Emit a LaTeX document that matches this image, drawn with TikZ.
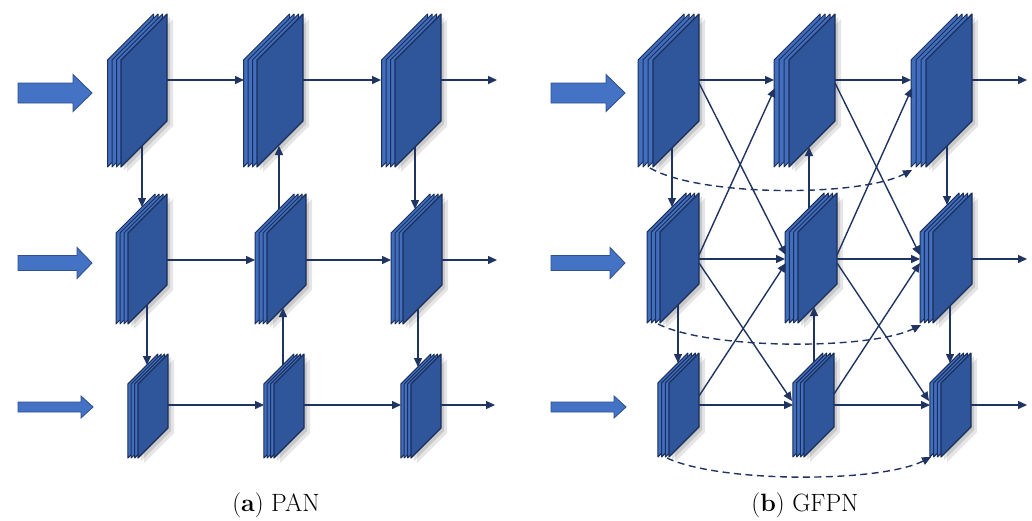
\documentclass[tikz,border=0pt]{standalone}
\usetikzlibrary{arrows.meta}
\definecolor{face}{RGB}{47,85,155}
\definecolor{stripc}{RGB}{66,110,190}
\definecolor{edgec}{RGB}{26,46,90}
\definecolor{linec}{RGB}{31,52,96}
\definecolor{inA}{RGB}{68,114,196}
\definecolor{inE}{RGB}{47,82,143}

% #1 xf, #2 yb, #3 w, #4 h, #5 d, #6 name
\newcommand{\slab}[6]{%
  \fill[black,opacity=.10] (#1+6,#2+5) -- ++(0,-#4) -- ++(#3,-#3) -- ++(0,#4) -- cycle;
  \fill[black,opacity=.12] (#1+3,#2+3) -- ++(0,-#4) -- ++(#3,-#3) -- ++(0,#4) -- cycle;
  \foreach \k in {3,2,1} {
    \filldraw[fill=stripc, draw=edgec, line width=1pt, line join=round] (#1-\k*#5,#2) -- ++(0,-#4) -- ++(#3,-#3) -- ++(0,#4) -- cycle;
  }
  \filldraw[fill=face, draw=edgec, line width=1.1pt, line join=round] (#1,#2) -- ++(0,-#4) -- ++(#3,-#3) -- ++(0,#4) -- cycle;
  \coordinate (#6) at (#1,#2);
}
% #1 name, #2 x0, #3 yc, #4 half shaft, #5 half head, #6 head start, #7 tip
\newcommand{\fatarrow}[7]{%
  \filldraw[fill=inA, draw=inE, line width=0.9pt] (#2,#3-#4) -- (#6,#3-#4) -- (#6,#3-#5) -- (#7,#3) -- (#6,#3+#5) -- (#6,#3+#4) -- (#2,#3+#4) -- cycle;
  \coordinate (#1) at (#7,#3);
}

\tikzset{
  link/.style={draw=linec, line width=1.4pt, -{Triangle[length=9pt,width=8pt]}},
  dlink/.style={link, dash pattern=on 7pt off 4.5pt},
  captxt/.style={anchor=base, inner sep=0pt, font=\fontsize{25}{30}\selectfont}
}

\begin{document}
\begin{tikzpicture}[x=1pt,y=-1pt]
\fill[white] (0,0) rectangle (1032,520);
\useasboundingbox (0,0) rectangle (1032,520);

% ---------------- PAN ----------------
\slab{121}{167}{46}{107}{4.5}{A1}
\slab{257}{167}{46}{107}{4.5}{A2}
\slab{395}{167}{46}{107}{4.5}{A3}
\slab{128}{324}{39}{91}{4}{B1}
\slab{267}{324}{39}{91}{4}{B2}
\slab{403}{324}{39}{91}{4}{B3}
\slab{138}{458}{30}{74}{3.4}{C1}
\slab{274}{458}{30}{74}{3.4}{C2}
\slab{411}{458}{30}{74}{3.4}{C3}

\fatarrow{inA1}{18}{93}{10}{18.5}{73}{92}
\fatarrow{inA2}{18}{263}{7.5}{15.5}{77}{92}
\fatarrow{inA3}{18}{407}{5}{11}{81}{93}

% row connectors
\coordinate (A1o) at (167,80);  \coordinate (A2i) at (244,80);
\coordinate (A2o) at (303,80);  \coordinate (A3i) at (381,80);
\coordinate (A3o) at (441,80);  \coordinate (A3x) at (497,80);
\coordinate (B1o) at (167,260); \coordinate (B2i) at (255,260);
\coordinate (B2o) at (306,260); \coordinate (B3i) at (391,260);
\coordinate (B3o) at (442,260); \coordinate (B3x) at (497,260);
\coordinate (C1o) at (168,405); \coordinate (C2i) at (264,405);
\coordinate (C2o) at (304,405); \coordinate (C3i) at (401,405);
\coordinate (C3o) at (441,405); \coordinate (C3x) at (495,405);
\draw[link] (A1o) -- (A2i);
\draw[link] (A2o) -- (A3i);
\draw[link] (A3o) -- (A3x);
\draw[link] (B1o) -- (B2i);
\draw[link] (B2o) -- (B3i);
\draw[link] (B3o) -- (B3x);
\draw[link] (C1o) -- (C2i);
\draw[link] (C2o) -- (C3i);
\draw[link] (C3o) -- (C3x);

% vertical connectors
\coordinate (A1b) at (142,146); \coordinate (B1t) at (142,207);
\coordinate (B1b) at (147,305); \coordinate (C1t) at (147,365);
\coordinate (B2t) at (279,209); \coordinate (A2b) at (279,146);
\coordinate (C2t) at (283,365); \coordinate (B2b) at (283,308);
\coordinate (A3b) at (415,147); \coordinate (B3t) at (415,209);
\coordinate (B3b) at (418,309); \coordinate (C3t) at (418,367);
\draw[link] (A1b) -- (B1t);
\draw[link] (B1b) -- (C1t);
\draw[link] (B2t) -- (A2b);
\draw[link] (C2t) -- (B2b);
\draw[link] (A3b) -- (B3t);
\draw[link] (B3b) -- (C3t);

% ---------------- GFPN ----------------
\slab{653}{167}{46}{107}{5}{D1}
\slab{789}{167}{46}{107}{5}{D2}
\slab{926}{167}{46}{107}{5}{D3}
\slab{660}{323}{39}{91}{4.3}{E1}
\slab{798}{323}{39}{91}{4.3}{E2}
\slab{933}{323}{39}{91}{4.3}{E3}
\slab{669}{457}{30}{74}{3.7}{F1}
\slab{804}{457}{30}{74}{3.7}{F2}
\slab{941}{457}{30}{74}{3.7}{F3}

\fatarrow{inD1}{551}{93}{10}{18.5}{606}{625}
\fatarrow{inD2}{551}{263}{7.5}{15.5}{610}{625}
\fatarrow{inD3}{551}{407}{5}{11}{614}{626}

% row connectors
\coordinate (D1o) at (699,80);  \coordinate (D2i) at (774,80);
\coordinate (D2o) at (835,80);  \coordinate (D3i) at (911,80);
\coordinate (D3o) at (972,80);  \coordinate (D3x) at (1027,80);
\coordinate (E1o) at (699,259); \coordinate (E2i) at (785,259);
\coordinate (E2o) at (837,259); \coordinate (E3i) at (920,259);
\coordinate (E3o) at (972,259); \coordinate (E3x) at (1027,259);
\coordinate (F1o) at (699,405); \coordinate (F2i) at (793,405);
\coordinate (F2o) at (834,405); \coordinate (F3i) at (930,405);
\coordinate (F3o) at (971,405); \coordinate (F3x) at (1027,405);
\draw[link] (D1o) -- (D2i);
\draw[link] (D2o) -- (D3i);
\draw[link] (D3o) -- (D3x);
\draw[link] (E1o) -- (E2i);
\draw[link] (E2o) -- (E3i);
\draw[link] (E3o) -- (E3x);
\draw[link] (F1o) -- (F2i);
\draw[link] (F2o) -- (F3i);
\draw[link] (F3o) -- (F3x);

% vertical connectors
\coordinate (D1b) at (672,148); \coordinate (E1t) at (672,207);
\coordinate (E1b) at (678,305); \coordinate (F1t) at (678,363);
\coordinate (E2t) at (809,208); \coordinate (D2b) at (809,147);
\coordinate (F2t) at (814,362); \coordinate (E2b) at (814,307);
\coordinate (D3b) at (947,146); \coordinate (E3t) at (947,205);
\coordinate (E3b) at (950,306); \coordinate (F3t) at (950,363);
\draw[link] (D1b) -- (E1t);
\draw[link] (E1b) -- (F1t);
\draw[link] (E2t) -- (D2b);
\draw[link] (F2t) -- (E2b);
\draw[link] (D3b) -- (E3t);
\draw[link] (E3b) -- (F3t);

% diagonal connectors
\coordinate (D1d) at (699,83);  \coordinate (E2u) at (786,255);
\coordinate (E1u) at (699,255); \coordinate (D2d) at (775,88);
\coordinate (E1d) at (699,263); \coordinate (F2u) at (792,401);
\coordinate (F1u) at (699,396); \coordinate (E2l) at (786,263);
\coordinate (D2r) at (835,83);  \coordinate (E3u) at (920,255);
\coordinate (E2r) at (837,255); \coordinate (D3d) at (912,88);
\coordinate (E2s) at (837,263); \coordinate (F3u) at (929,401);
\coordinate (F2r) at (834,394); \coordinate (E3l) at (920,263);
\draw[link] (D1d) -- (E2u);
\draw[link] (E1u) -- (D2d);
\draw[link] (E1d) -- (F2u);
\draw[link] (F1u) -- (E2l);
\draw[link] (D2r) -- (E3u);
\draw[link] (E2r) -- (D3d);
\draw[link] (E2s) -- (F3u);
\draw[link] (F2r) -- (E3l);

% dashed skip connectors
\coordinate (D1s) at (650,168); \coordinate (D3s) at (912,170);
\coordinate (E1s) at (658,324); \coordinate (E3s) at (921,325);
\coordinate (F1s) at (667,458); \coordinate (F3s) at (931,457);
\draw[dlink] (D1s) .. controls (700,197) and (860,197) .. (D3s);
\draw[dlink] (E1s) .. controls (710,350) and (870,350) .. (E3s);
\draw[dlink] (F1s) .. controls (720,483) and (880,483) .. (F3s);

% captions
\node[captxt] (capA) at (276,511) {(\textbf{a}) PAN};
\node[captxt] (capB) at (805,511) {(\textbf{b}) GFPN};
\end{tikzpicture}
\end{document}
